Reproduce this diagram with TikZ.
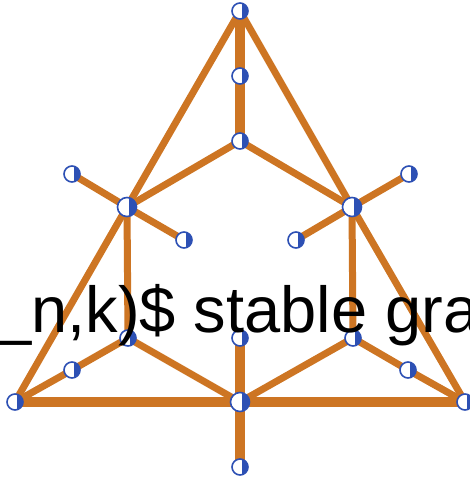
\documentclass[tikz,border=0pt]{standalone}
\usepackage{fontspec}
\setmainfont{Liberation Sans}
\definecolor{edgeor}{RGB}{205,117,35}
\definecolor{vblue}{RGB}{45,80,180}
\begin{document}
\begin{tikzpicture}[x=1pt,y=-1pt,
  vtx/.style={circle,draw=vblue,line width=1.6pt,fill=white,minimum size=#1,inner sep=0pt,
    path picture={\fill[vblue] ([xshift=2pt]path picture bounding box.north) rectangle (path picture bounding box.south east);}},
  vtx/.default=16pt,
  big/.style={vtx=19pt},
  edge/.style={draw=edgeor,line width=7pt},
  thick edge/.style={draw=edgeor,line width=9.5pt},
  lbl/.style={inner sep=0pt,anchor=base west,font=\fontsize{65}{78}\selectfont}]
\useasboundingbox (0,0) rectangle (470,482);
\clip (0,0) rectangle (470,482);
% coordinates of vertices
\coordinate (cT) at (240,11);
\coordinate (cTm) at (240,76);
\coordinate (cI) at (240,141);
\coordinate (cL) at (127,207);
\coordinate (cR) at (352,207);
\coordinate (cLa) at (72,174);
\coordinate (cLb) at (184,240);
\coordinate (cRa) at (409,174);
\coordinate (cRb) at (296,240);
\coordinate (cLl) at (128,338);
\coordinate (cMl) at (240,338);
\coordinate (cRl) at (353,338);
\coordinate (cLs) at (72,370);
\coordinate (cRs) at (408,370);
\coordinate (cBL) at (15,402);
\coordinate (cBM) at (240,402);
\coordinate (cBR) at (465,402);
\coordinate (cS) at (240,467);
% edges
\path[edge] (cT) -- (cL) -- (cBL);
\path[edge] (cT) -- (cR) -- (cBR);
\path[thick edge] (cT) -- (cTm) -- (cI);
\path[edge] (cI) -- (cL);
\path[edge] (cI) -- (cR);
\path[edge] (cL) -- (cLa);
\path[edge] (cL) -- (cLb);
\path[edge] (cR) -- (cRa);
\path[edge] (cR) -- (cRb);
\path[edge] (cL) -- (cLl);
\path[edge] (cR) -- (cRl);
\path[edge] (cLl) -- (cBM);
\path[edge] (cRl) -- (cBM);
\path[edge] (cLl) -- (cLs) -- (cBL);
\path[edge] (cRl) -- (cRs) -- (cBR);
\path[thick edge] (cBL) -- (cBM) -- (cBR);
\path[thick edge] (cMl) -- (cBM) -- (cS);
% vertices
\node[vtx] (T) at (cT) {};
\node[vtx] (Tm) at (cTm) {};
\node[vtx] (I) at (cI) {};
\node[big] (L) at (cL) {};
\node[big] (R) at (cR) {};
\node[vtx] (La) at (cLa) {};
\node[vtx] (Lb) at (cLb) {};
\node[vtx] (Ra) at (cRa) {};
\node[vtx] (Rb) at (cRb) {};
\node[vtx] (Ll) at (cLl) {};
\node[vtx] (Ml) at (cMl) {};
\node[vtx] (Rl) at (cRl) {};
\node[vtx] (Ls) at (cLs) {};
\node[vtx] (Rs) at (cRs) {};
\node[vtx] (BL) at (cBL) {};
\node[big] (BM) at (cBM) {};
\node[vtx] (BR) at (cBR) {};
\node[vtx] (S) at (cS) {};
% overlaid text
\node[lbl] (txt) at (-5,332) {\_n,k)\$ stable gra};
\end{tikzpicture}
\end{document}
